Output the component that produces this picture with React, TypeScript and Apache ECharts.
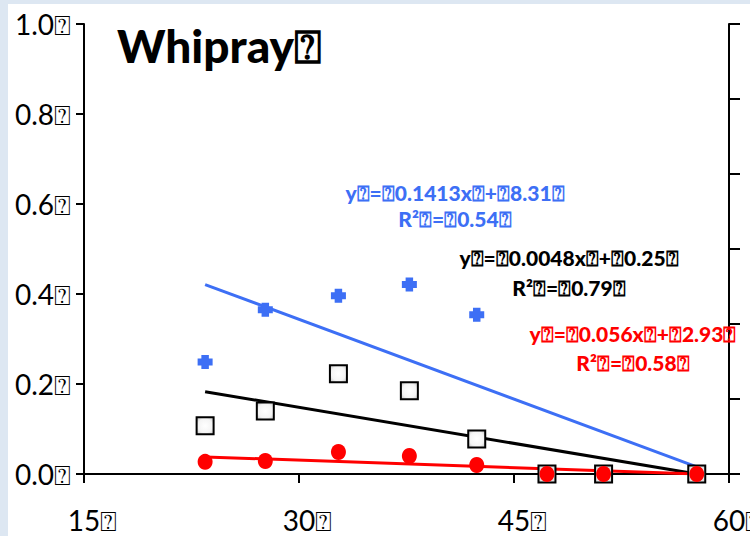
import React, { useEffect, useRef } from "react";
import * as echarts from "echarts";

// Body length classes (x) and the three measured proportions (y)
const lengthClass = [23.45, 27.65, 32.75, 37.7, 42.4, 47.3, 51.25, 57.75];
const blueValues = [0.249, 0.365, 0.396, 0.421, 0.354, 0, 0, 0];
const blackValues = [0.107, 0.14, 0.223, 0.185, 0.078, 0, 0, 0];
const redValues = [0.027, 0.029, 0.049, 0.04, 0.02, 0, 0, 0];

// Linear trend lines: [x, y] at both ends
const blueTrend = [[23.45, 0.421], [57.75, 0.016]];
const blackTrend = [[23.45, 0.183], [57.75, 0]];
const redTrend = [[23.45, 0.038], [57.75, 0]];

// Axis ticks
const xTicks = [15, 30, 45, 60];
const yTicks = [0, 0.2, 0.4, 0.6, 0.8, 1.0];

const BOX = "\u2370";
const titleText = "Whipray" + BOX;
const blueEq = ["y" + BOX + "=" + BOX + "0.1413x" + BOX + "+" + BOX + "8.31" + BOX, "R²" + BOX + "=" + BOX + "0.54" + BOX];
const blackEq = ["y" + BOX + "=" + BOX + "0.0048x" + BOX + "+" + BOX + "0.25" + BOX, "R²" + BOX + "=" + BOX + "0.79" + BOX];
const redEq = ["y" + BOX + "=" + BOX + "0.056x" + BOX + "+" + BOX + "2.93" + BOX, "R²" + BOX + "=" + BOX + "0.58" + BOX];

const BLUE = "#3d6ff5";
const RED = "#ff0000";
const FONT = "Lato, 'Noto Sans', 'DejaVu Sans', sans-serif";

const blobPath = "path://M2.5,0 L7.5,0 L7.5,2.5 L10,2.5 L10,7.5 L7.5,7.5 L7.5,10 L2.5,10 L2.5,7.5 L0,7.5 L0,2.5 L2.5,2.5 Z";

function pairs(xs: number[], ys: number[]) {
  return xs.map((x, i) => [x, ys[i]]);
}

export default function App() {
  const ref = useRef<HTMLDivElement>(null);

  useEffect(() => {
    if (!ref.current) return;
    const chart = echarts.init(ref.current, undefined, { renderer: "svg" });

    const eqText = (lines: string[], color: string, cx: number, y1: number, y2: number) =>
      lines.map((t, i) => ({
        type: "text",
        x: cx,
        y: i === 0 ? y1 : y2,
        z: 20,
        style: {
          text: t,
          fill: color,
          font: `900 21px ${FONT}`,
          textAlign: "center",
          textVerticalAlign: "middle",
        },
      }));

    const axisLine = { show: true, lineStyle: { color: "#000", width: 2 } };

    chart.setOption({
      animation: false,
      backgroundColor: "#ffffff",
      textStyle: { fontFamily: FONT },
      grid: { left: 84, right: 21, top: 24, bottom: 62, outerBoundsMode: "none", containLabel: false },
      graphic: [
        { type: "rect", shape: { x: 0, y: 0, width: 8, height: 536 }, style: { fill: "#dde7f2" }, silent: true },
        { type: "rect", shape: { x: 0, y: 0, width: 750, height: 4 }, style: { fill: "#dde7f2" }, silent: true },
        {
          type: "text",
          x: 117,
          y: 45,
          z: 20,
          style: { text: titleText, fill: "#000", font: `900 46px ${FONT}`, textAlign: "left", textVerticalAlign: "middle" },
        },
        ...eqText(blueEq, BLUE, 455, 192, 218),
        ...eqText(blackEq, "#000", 569, 257, 287),
        ...eqText(redEq, RED, 633, 333, 362),
      ],
      xAxis: {
        type: "value",
        min: xTicks[0],
        max: xTicks[xTicks.length - 1],
        interval: 15,
        axisLine,
        axisTick: { show: true, inside: false, length: 9, lineStyle: { color: "#000", width: 2 } },
        splitLine: { show: false },
        axisLabel: {
          color: "#000",
          fontSize: 28,
          fontFamily: FONT,
          margin: 32,
          padding: [0, 0, 0, 17],
          formatter: (v: number) => (xTicks.includes(v) ? `${v}${BOX}` : ""),
        },
      },
      yAxis: [
        {
          type: "value",
          min: yTicks[0],
          max: yTicks[yTicks.length - 1],
          interval: 0.2,
          axisLine,
          axisTick: { show: true, inside: false, length: 8, lineStyle: { color: "#000", width: 2 } },
          splitLine: { show: false },
          axisLabel: {
            color: "#000",
            fontSize: 28,
            fontFamily: FONT,
            margin: 13,
            formatter: (v: number) => `${v.toFixed(1)}${BOX}`,
          },
        },
        {
          type: "value",
          position: "right",
          min: 0,
          max: 6,
          interval: 1,
          axisLine,
          axisTick: { show: true, inside: false, length: 11, lineStyle: { color: "#000", width: 2 } },
          splitLine: { show: false },
          axisLabel: { show: false },
        },
      ],
      series: [
        {
          type: "line",
          data: blueTrend,
          symbol: "none",
          z: 2,
          lineStyle: { color: BLUE, width: 3 },
        },
        {
          type: "line",
          data: blackTrend,
          symbol: "none",
          z: 2,
          lineStyle: { color: "#000", width: 3 },
        },
        {
          type: "line",
          data: redTrend,
          symbol: "none",
          z: 2,
          lineStyle: { color: RED, width: 3 },
        },
        {
          type: "scatter",
          data: pairs(lengthClass, blueValues),
          symbol: blobPath,
          symbolSize: [15, 14],
          z: 3,
          itemStyle: { color: BLUE, opacity: 1 },
        },
        {
          type: "scatter",
          data: pairs(lengthClass, blackValues),
          symbol: "rect",
          symbolSize: 17,
          z: 4,
          itemStyle: {
            color: new echarts.graphic.RadialGradient(0.5, 0.5, 0.7, [
              { offset: 0, color: "#ffffff" },
              { offset: 0.6, color: "#f4f4f4" },
              { offset: 1, color: "#bdbdbd" },
            ]),
            borderColor: "#000",
            borderWidth: 2,
            opacity: 1,
          },
        },
        {
          type: "scatter",
          data: pairs(lengthClass, redValues),
          symbol: "circle",
          symbolSize: [15, 16],
          z: 5,
          itemStyle: { color: RED, opacity: 1 },
        },
      ],
    });

    return () => chart.dispose();
  }, []);

  return (
    <div
      ref={ref}
      style={{ position: "absolute", left: 0, top: 0, width: 750, height: 536 }}
    />
  );
}
